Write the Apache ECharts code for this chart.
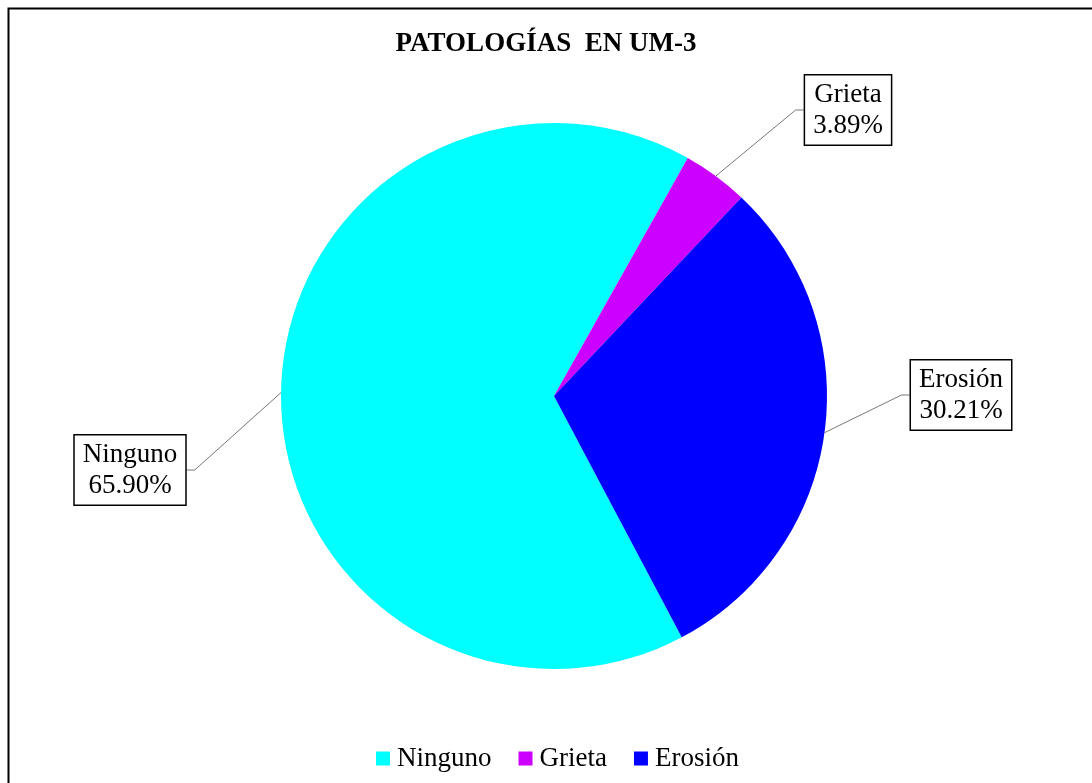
<!DOCTYPE html>
<html>
<head>
<meta charset="utf-8">
<script src="https://cdn.jsdelivr.net/npm/echarts@6/dist/echarts.min.js"></script>
<style>
  html, body { margin: 0; padding: 0; background: #fff; }
  #main { width: 1092px; height: 783px; }
</style>
</head>
<body>
<div id="main"></div>
<script>
var categories = ['Ninguno', 'Grieta', 'Erosión'];
var values = [65.90, 3.89, 30.21];
var colors = ['#00FFFF', '#CC00FF', '#0000FF'];
// label box centres
var labelPos = [[130, 470], [848, 110], [961, 395]];

var font = '"Liberation Serif", "Times New Roman", serif';

var chart = echarts.init(document.getElementById('main'));
chart.setOption({
    backgroundColor: '#fff',
    animation: false,
    title: {
        text: 'PATOLOGÍAS  EN UM-3',
        left: 'center',
        top: 26,
        textStyle: { fontFamily: font, fontSize: 27, fontWeight: 'bold', color: '#000' }
    },
    legend: {
        data: categories,
        bottom: 6,
        left: 371,
        icon: 'rect',
        itemWidth: 14,
        itemHeight: 14,
        itemGap: 27,
        textStyle: { fontFamily: font, fontSize: 27, color: '#000', padding: [0, 0, 0, 2] }
    },
    graphic: [{
        type: 'rect',
        left: 6,
        top: 6,
        shape: { width: 1200, height: 1000 },
        style: { fill: 'none', stroke: '#000', lineWidth: 2 },
        silent: true
    }],
    series: [{
        type: 'pie',
        center: [554, 396],
        radius: 273,
        startAngle: -62.1,
        clockwise: true,
        data: categories.map(function (c, i) {
            return { name: c, value: values[i], itemStyle: { color: colors[i] } };
        }),
        label: {
            show: true,
            formatter: function (p) { return p.name + '\n' + p.value.toFixed(2) + '%'; },
            fontFamily: font,
            fontSize: 27,
            lineHeight: 31,
            color: '#000',
            backgroundColor: '#fff',
            borderColor: '#000',
            borderWidth: 1.5,
            padding: [4, 8, 3, 8],
            align: 'center'
        },
        labelLine: {
            show: true,
            length: 20,
            length2: 8,
            lineStyle: { color: '#777', width: 1 }
        },
        labelLayout: function (p) {
            var pos = labelPos[p.dataIndex];
            return { x: pos[0], y: pos[1], align: 'center', verticalAlign: 'middle' };
        },
        emphasis: { disabled: true }
    }]
});
</script>
</body>
</html>
